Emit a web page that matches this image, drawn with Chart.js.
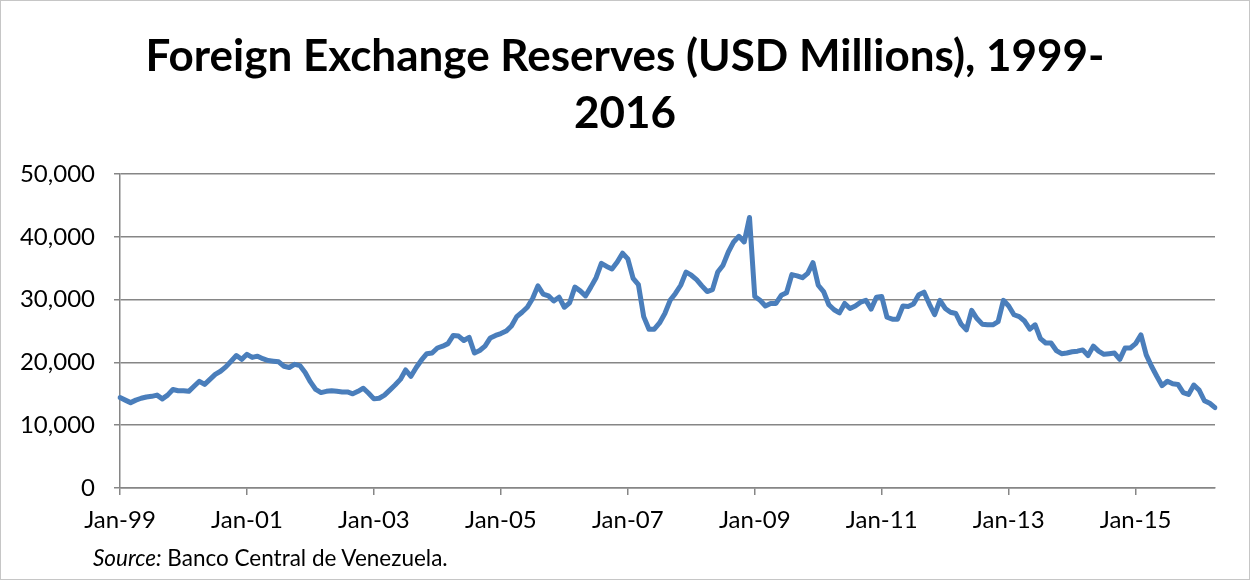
<!DOCTYPE html>
<html>
<head>
<meta charset="utf-8">
<script src="https://cdn.jsdelivr.net/npm/chart.js@4.4.1/dist/chart.umd.min.js"></script>
<style>
  html, body { margin: 0; padding: 0; background: #ffffff; }
  #wrap { position: relative; width: 1248px; height: 578px; border: 1px solid #c6c6c6; background: #fff; }
  #c { position: absolute; left: -1px; top: -1px; }
  #source { position: absolute; left: 92px; top: 543px; font-family: "Lato", "Open Sans", sans-serif; font-size: 22.5px; color: #000; }
</style>
</head>
<body>
<div id="wrap">
  <canvas id="c" width="1250" height="580"></canvas>
  <div id="source"><i>Source:</i> Banco Central de Venezuela.</div>
</div>
<script>
// Monthly data, Jan-1999 .. Apr-2016 (USD millions)
const monthNames = ['Jan','Feb','Mar','Apr','May','Jun','Jul','Aug','Sep','Oct','Nov','Dec'];
const startYear = 1999;
const titleLines = ['Foreign Exchange Reserves (USD Millions), 1999-', '2016'];
const yTicks = [0, 10000, 20000, 30000, 40000, 50000];
const reserves = [
  14400, 14000, 13600, 14000, 14300, 14500, 14600, 14800, 14200, 14800, 15700, 15500,
  15500, 15400, 16200, 17000, 16500, 17300, 18100, 18600, 19300, 20200, 21100, 20500,
  21300, 20800, 21000, 20600, 20300, 20200, 20100, 19400, 19200, 19700, 19500, 18400,
  16900, 15700, 15200, 15400, 15500, 15400, 15300, 15300, 15000, 15400, 15900, 15100,
  14200, 14300, 14800, 15600, 16400, 17300, 18800, 17800, 19200, 20400, 21400, 21500,
  22300, 22600, 23000, 24300, 24200, 23500, 24000, 21500, 21900, 22600, 23900, 24300,
  24600, 25000, 25800, 27300, 28000, 28800, 30200, 32200, 30900, 30600, 29800, 30400,
  28800, 29500, 32000, 31400, 30600, 32000, 33500, 35800, 35300, 34900, 36000, 37400,
  36500, 33400, 32400, 27300, 25300, 25300, 26300, 27800, 29900, 31000, 32300, 34400,
  33900, 33200, 32200, 31300, 31600, 34400, 35500, 37600, 39200, 40100, 39200, 43100,
  30500, 29900, 29000, 29400, 29400, 30700, 31100, 34000, 33800, 33500, 34200, 35900,
  32300, 31300, 29200, 28400, 27900, 29400, 28600, 29000, 29600, 29900, 28500, 30400,
  30500, 27200, 26900, 26900, 29000, 28900, 29300, 30800, 31200, 29300, 27600, 29900,
  28600, 28000, 27800, 26100, 25200, 28300, 27000, 26100, 26000, 26000, 26500, 29900,
  29000, 27600, 27300, 26600, 25300, 26000, 23800, 23100, 23100, 21900, 21400, 21500,
  21700, 21800, 22000, 21100, 22600, 21800, 21300, 21400, 21500, 20500, 22300, 22300,
  23000, 24400, 21200, 19400, 17800, 16300, 17000, 16600, 16500, 15200, 14900, 16400,
  15600, 13900, 13500, 12800
];
const labels = reserves.map((_, i) =>
  monthNames[i % 12] + '-' + String((startYear + Math.floor(i / 12)) % 100).padStart(2, '0'));

const gridGray = '#868686';
const tickFont = { family: 'Lato, "Open Sans", sans-serif', size: 24 };

new Chart(document.getElementById('c'), {
  type: 'line',
  data: {
    labels: labels,
    datasets: [{
      data: reserves,
      yAxisID: 'y',
      borderColor: '#4a7ebb',
      borderWidth: 5,
      pointRadius: 0,
      tension: 0,
      fill: false,
      borderCapStyle: 'round',
      borderJoinStyle: 'round'
    }]
  },
  options: {
    responsive: false,
    animation: false,
    devicePixelRatio: 1,
    layout: { padding: { left: 0, right: 0, top: 0, bottom: 32 } },
    plugins: {
      legend: { display: false },
      tooltip: { enabled: false },
      title: {
        display: true,
        text: titleLines,
        color: '#000',
        font: { family: 'Lato, "Open Sans", sans-serif', size: 44, weight: 'bold', lineHeight: 1.28 },
        padding: { top: 29, bottom: 32.5 }
      }
    },
    scales: {
      x: {
        type: 'category',
        offset: false,
        afterFit: (s) => { s.height = 60; },
        grid: { display: true, drawOnChartArea: false, drawTicks: true, tickLength: 7, color: gridGray, lineWidth: 1.5 },
        border: { display: true, color: gridGray, width: 1.5 },
        ticks: {
          autoSkip: false,
          maxRotation: 0,
          minRotation: 0,
          padding: 11,
          color: '#000',
          font: tickFont,
          callback: function (val, idx) { return idx % 24 === 0 ? this.getLabelForValue(val) : null; }
        }
      },
      y: {
        min: 0,
        max: 50000,
        afterFit: (s) => { s.width = 120; },
        afterBuildTicks: (s) => { s.ticks = yTicks.map(v => ({ value: v })); },
        grid: { color: gridGray, lineWidth: 1.5, drawTicks: true, tickLength: 6 },
        border: { display: true, color: gridGray, width: 1.5 },
        ticks: {
          padding: 19,
          color: '#000',
          font: tickFont,
          callback: (v) => v.toLocaleString('en-US')
        }
      },
      yRight: {
        position: 'right',
        min: 0,
        max: 50000,
        afterFit: (s) => { s.width = 35; },
        grid: { display: false, drawTicks: false },
        border: { display: false },
        ticks: { display: false }
      }
    }
  }
});
</script>
</body>
</html>
